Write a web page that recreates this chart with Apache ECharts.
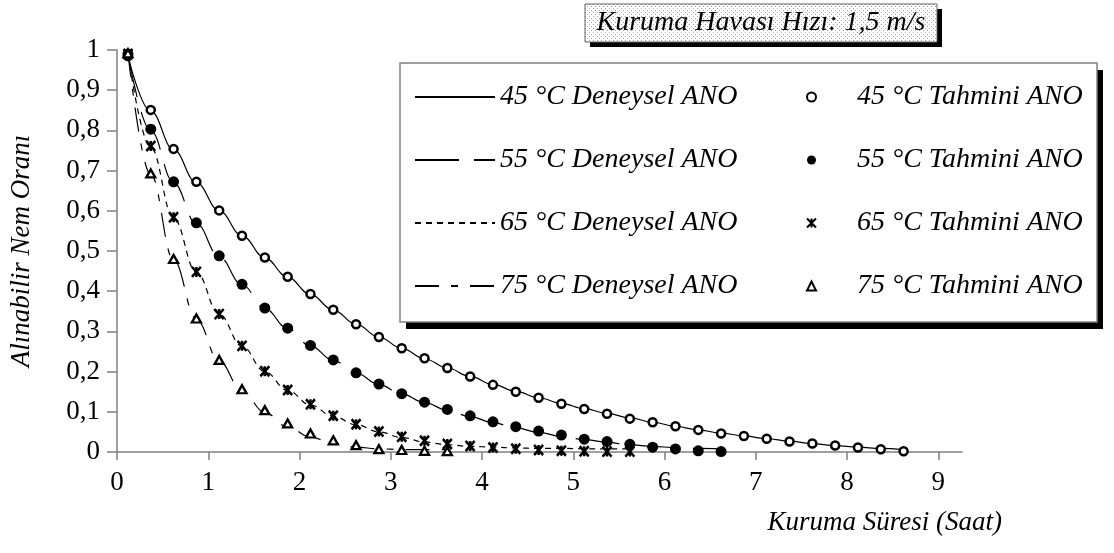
<!DOCTYPE html>
<html>
<head>
<meta charset="utf-8">
<title>Alınabilir Nem Oranı</title>
<script src="https://cdn.jsdelivr.net/npm/echarts@6/dist/echarts.min.js"></script>
<style>
  html, body { margin: 0; padding: 0; background: #fff; }
  #chart { width: 1114px; height: 553px; }
</style>
</head>
<body>
<div id="chart"></div>
<script>
// Drying time (hours) at which each ANO value was taken
const saat = [0.12, 0.37, 0.62, 0.87, 1.12, 1.37, 1.62, 1.87, 2.12, 2.37, 2.62, 2.87,
  3.12, 3.37, 3.62, 3.87, 4.12, 4.37, 4.62, 4.87, 5.12, 5.37, 5.62, 5.87, 6.12, 6.37,
  6.62, 6.87, 7.12, 7.37, 7.62, 7.87, 8.12, 8.37, 8.62];

// Experimental moisture ratio (lines)
const deneysel45 = [0.985, 0.848, 0.752, 0.670, 0.600, 0.538, 0.483, 0.435, 0.392, 0.353, 0.318, 0.286,
  0.258, 0.232, 0.209, 0.188, 0.168, 0.151, 0.135, 0.121, 0.108, 0.096, 0.085, 0.074, 0.064, 0.055,
  0.047, 0.040, 0.033, 0.027, 0.021, 0.016, 0.012, 0.009, 0.006];
const deneysel55 = [0.990, 0.800, 0.670, 0.568, 0.486, 0.416, 0.357, 0.307, 0.264, 0.228, 0.196, 0.168,
  0.144, 0.123, 0.104, 0.088, 0.073, 0.060, 0.049, 0.039, 0.031, 0.024, 0.018, 0.014, 0.011, 0.009, 0.008];
const deneysel65 = [0.990, 0.758, 0.582, 0.447, 0.343, 0.263, 0.200, 0.153, 0.117, 0.089, 0.068, 0.050,
  0.036, 0.025, 0.018, 0.014, 0.012, 0.010, 0.009, 0.009, 0.008, 0.008, 0.008];
const deneysel75 = [0.992, 0.690, 0.478, 0.330, 0.226, 0.152, 0.098, 0.062, 0.037, 0.022, 0.012, 0.008,
  0.006, 0.006, 0.006];

// Predicted moisture ratio (markers)
const tahmini45 = [0.985, 0.851, 0.754, 0.672, 0.601, 0.538, 0.484, 0.436, 0.393, 0.354, 0.318, 0.286,
  0.258, 0.233, 0.209, 0.188, 0.167, 0.150, 0.135, 0.120, 0.107, 0.095, 0.083, 0.074, 0.064, 0.055,
  0.046, 0.040, 0.033, 0.026, 0.021, 0.016, 0.011, 0.007, 0.002];
const tahmini55 = [0.990, 0.803, 0.672, 0.570, 0.488, 0.417, 0.358, 0.308, 0.265, 0.229, 0.197, 0.169,
  0.145, 0.124, 0.106, 0.090, 0.075, 0.063, 0.052, 0.042, 0.032, 0.026, 0.019, 0.012, 0.0075, 0.003, 0.001];
const tahmini65 = [0.990, 0.761, 0.584, 0.448, 0.343, 0.264, 0.201, 0.154, 0.119, 0.090, 0.069, 0.051,
  0.038, 0.028, 0.020, 0.015, 0.011, 0.008, 0.005, 0.003, 0.002, 0.001, 0.001];
const tahmini75 = [0.992, 0.693, 0.480, 0.332, 0.229, 0.156, 0.104, 0.071, 0.046, 0.029, 0.017, 0.007,
  0.005, 0.003, 0.002];

const xTickValues = [0, 1, 2, 3, 4, 5, 6, 7, 8, 9];
const xTickLabels = ['0', '1', '2', '3', '4', '5', '6', '7', '8', '9'];
const yTickLabels = ['0', '0,1', '0,2', '0,3', '0,4', '0,5', '0,6', '0,7', '0,8', '0,9', '1'];

const deneyselAdlari = ['45 °C Deneysel ANO', '55 °C Deneysel ANO', '65 °C Deneysel ANO', '75 °C Deneysel ANO'];
const tahminiAdlari = ['45 °C Tahmini ANO', '55 °C Tahmini ANO', '65 °C Tahmini ANO', '75 °C Tahmini ANO'];
const baslik = 'Kuruma Havası Hızı: 1,5 m/s';
const xBaslik = 'Kuruma Süresi (Saat)';
const yBaslik = 'Alınabilir Nem Oranı';

const FONT = "'Liberation Serif', 'Times New Roman', serif";

function pairs(values) {
  return values.map((v, i) => [saat[i], v]);
}

// dotted fill for the heading box
function dotPattern() {
  const c = document.createElement('canvas');
  c.width = 4; c.height = 4;
  const g = c.getContext('2d');
  g.fillStyle = '#ffffff';
  g.fillRect(0, 0, 4, 4);
  g.fillStyle = '#a0a0a0';
  g.fillRect(0, 0, 1, 1);
  g.fillRect(2, 2, 1, 1);
  return { image: c, repeat: 'repeat' };
}

const lineDashes = ['solid', [44, 15], [6, 5], [24, 12, 7, 12]];
const deneyselVeri = [deneysel45, deneysel55, deneysel65, deneysel75];
const tahminiVeri = [tahmini45, tahmini55, tahmini65, tahmini75];

const markerStyles = [
  { symbol: 'circle', symbolSize: 8,
    itemStyle: { color: '#fff', borderColor: '#000', borderWidth: 2.5, opacity: 1 } },
  { symbol: 'circle', symbolSize: 11,
    itemStyle: { color: '#000', borderColor: '#000', borderWidth: 0, opacity: 1 } },
  { symbol: 'path://M0,0L10,10M10,0L0,10M5,0L5,10', symbolSize: [9, 10],
    itemStyle: { color: 'rgba(0,0,0,0)', borderColor: '#000', borderWidth: 2.6, opacity: 1 } },
  { symbol: 'triangle', symbolSize: [9, 8], symbolKeepAspect: true,
    itemStyle: { color: '#fff', borderColor: '#000', borderWidth: 2.3, opacity: 1 } }
];

const series = [];
deneyselVeri.forEach((vals, i) => {
  series.push({
    name: deneyselAdlari[i],
    type: 'line',
    data: pairs(vals),
    showSymbol: false,
    symbol: 'none',
    smooth: 0.4,
    smoothMonotone: 'x',
    z: 2,
    lineStyle: { color: '#000', width: 1.2, type: lineDashes[i] },
    itemStyle: { color: '#000' }
  });
});
tahminiVeri.forEach((vals, i) => {
  series.push(Object.assign({
    name: tahminiAdlari[i],
    type: 'scatter',
    data: pairs(vals),
    z: 4
  }, markerStyles[i]));
});

const legendText = { fontFamily: FONT, fontStyle: 'italic', fontSize: 28, color: '#000', lineHeight: 30 };

const chart = echarts.init(document.getElementById('chart'), null, { renderer: 'canvas' });

chart.setOption({
  backgroundColor: '#ffffff',
  animation: false,
  textStyle: { fontFamily: FONT },
  grid: { left: 110, right: 152, top: 50, bottom: 101 },
  xAxis: {
    type: 'value',
    min: 0,
    max: 9.26,
    interval: 1,
    name: xBaslik,
    nameLocation: 'end',
    nameGap: 0,
    nameTextStyle: {
      fontFamily: FONT, fontStyle: 'italic', fontSize: 27, color: '#000',
      align: 'right', verticalAlign: 'top', padding: [57, -40, 0, 0]
    },
    axisLine: { lineStyle: { color: '#808080', width: 1.5 } },
    axisTick: { show: true, inside: false, length: 8, customValues: xTickValues,
      lineStyle: { color: '#808080', width: 1.5 } },
    axisLabel: {
      customValues: xTickValues,
      margin: 17,
      fontFamily: FONT, fontSize: 27, color: '#000',
      formatter: (v) => xTickLabels[xTickValues.indexOf(Math.round(v))]
    },
    splitLine: { show: false }
  },
  yAxis: {
    type: 'value',
    min: 0,
    max: 1,
    interval: 0.1,
    name: yBaslik,
    nameLocation: 'middle',
    nameRotate: 90,
    nameGap: 82,
    nameTextStyle: { fontFamily: FONT, fontStyle: 'italic', fontSize: 27, color: '#000' },
    axisLine: { show: true, lineStyle: { color: '#808080', width: 1.5 } },
    axisTick: { show: true, inside: false, length: 10, lineStyle: { color: '#808080', width: 1.5 } },
    axisLabel: {
      margin: 17,
      fontFamily: FONT, fontSize: 27, color: '#000',
      formatter: (v, idx) => yTickLabels[idx]
    },
    splitLine: { show: false }
  },
  legend: [
    {
      data: deneyselAdlari,
      orient: 'vertical',
      left: 414,
      top: 82,
      itemWidth: 80,
      itemHeight: 14,
      itemGap: 33,
      padding: 0,
      selectedMode: false,
      itemStyle: { color: 'rgba(0,0,0,0)', borderColor: 'rgba(0,0,0,0)', borderWidth: 0 },
      textStyle: legendText
    },
    {
      data: tahminiAdlari,
      orient: 'vertical',
      left: 806,
      top: 82,
      itemWidth: 9,
      itemHeight: 9,
      itemGap: 33,
      padding: 0,
      selectedMode: false,
      textStyle: Object.assign({}, legendText, { padding: [0, 0, 0, 36] })
    }
  ],
  graphic: [
    // heading box with drop shadow
    { type: 'rect', x: 590, y: 9, z: 1, shape: { width: 352, height: 38 }, style: { fill: '#000' } },
    { type: 'rect', x: 585, y: 4, z: 2, shape: { width: 352, height: 38 },
      style: { fill: dotPattern(), stroke: '#606060', lineWidth: 1 } },
    { type: 'text', x: 761, y: 23, z: 3,
      style: { text: baslik, fontFamily: FONT, fontStyle: 'italic', fontSize: 28, fill: '#000',
        align: 'center', verticalAlign: 'middle', textAlign: 'center', textVerticalAlign: 'middle' } },
    // legend frame with drop shadow
    { type: 'rect', x: 406, y: 70, z: 1, shape: { width: 697, height: 259 }, style: { fill: '#000' } },
    { type: 'rect', x: 400, y: 63, z: 2, shape: { width: 697, height: 259 },
      style: { fill: '#fff', stroke: '#808080', lineWidth: 1.5 } }
  ],
  series: series
});
</script>
</body>
</html>
